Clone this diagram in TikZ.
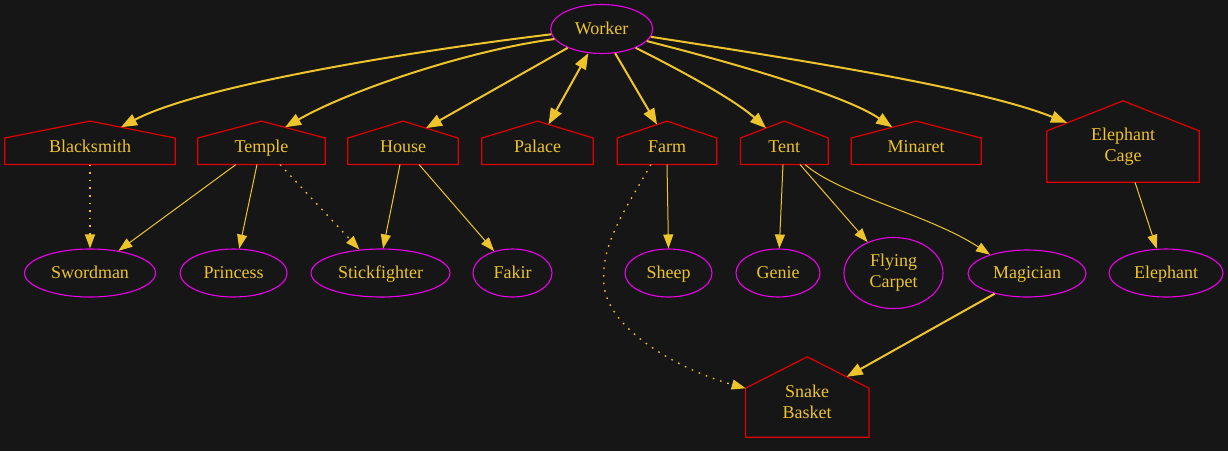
\documentclass[tikz,border=0pt]{standalone}
\usepackage{fontspec}
\setmainfont{Liberation Serif}
\usetikzlibrary{shapes.geometric,arrows.meta,calc}
\definecolor{bgc}{RGB}{22,22,22}
\definecolor{gold}{RGB}{238,196,45}
\definecolor{mag}{RGB}{235,0,235}
\definecolor{hred}{RGB}{225,0,0}
\newcommand\mkhouse[2]{\draw[housecol] (#1.south west) -- (#1.south east) -- ($(#1.north east)!#2!(#1.south east)$) -- (#1.north) -- ($(#1.north west)!#2!(#1.south west)$) -- cycle;}
\begin{document}
\begin{tikzpicture}[x=1pt,y=1pt,
  every node/.style={font=\fontsize{18}{21}\selectfont, text=gold},
  oneline/.style={text height=13.5pt, text depth=3.5pt},
  ell/.style={ellipse, draw=mag, line width=1.1pt, inner sep=0pt, minimum height=48pt},
  hbox/.style={rectangle, draw=none, inner sep=0pt, minimum height=43pt},
  htext/.style={align=center, inner sep=0pt},
  housecol/.style={draw=hred, line width=1.2pt},
  tipthin/.tip={Triangle[length=14pt,width=10pt]},
  tipthick/.tip={Triangle[length=16pt,width=12pt]},
  edgethin/.style={draw=gold, line width=1pt, -tipthin},
  edgethick/.style={draw=gold, line width=2pt, -tipthick},
  edgedot/.style={edgethin, line width=1.3pt, dash pattern=on 1.6pt off 6pt},
]
\fill[bgc] (0,0) rectangle (1228,-451);
\useasboundingbox (0,0) rectangle (1228,-451);

% ellipse nodes
\node[ell, oneline, minimum width=102pt, minimum height=49pt] (w) at (601.7,-29) {Worker};
\node[ell, oneline, minimum width=131pt] (sw) at (90,-273) {Swordman};
\node[ell, oneline, minimum width=107pt] (pr) at (233.6,-273) {Princess};
\node[ell, oneline, minimum width=139pt] (st) at (380.5,-273) {Stickfighter};
\node[ell, oneline, minimum width=79pt] (fk) at (512.5,-273) {Fakir};
\node[ell, oneline, minimum width=87pt] (sh) at (668.5,-273) {Sheep};
\node[ell, oneline, minimum width=84pt] (gn) at (778,-273) {Genie};
\node[ell, align=center, minimum width=99pt, minimum height=71pt] (fc) at (893.5,-273) {Flying\\Carpet};
\node[ell, oneline, minimum width=118pt, minimum height=47pt] (mg) at (1027,-273.5) {Magician};
\node[ell, oneline, minimum width=114pt] (el) at (1166,-273) {Elephant};

% house nodes
\node[hbox, minimum width=170pt] (bs) at (90,-142.8) {};
\node[hbox, minimum width=127pt] (tm) at (261.5,-142.8) {};
\node[hbox, minimum width=110pt] (hs) at (403,-142.8) {};
\node[hbox, minimum width=111pt] (pl) at (537.5,-142.8) {};
\node[hbox, minimum width=99pt] (fm) at (667,-142.8) {};
\node[hbox, minimum width=87.4pt] (tn) at (784.3,-142.8) {};
\node[hbox, minimum width=129.5pt] (mn) at (916.2,-142.8) {};
\node[hbox, minimum width=152pt, minimum height=81pt] (ec) at (1123,-141.5) {};
\node[hbox, minimum width=123pt, minimum height=80pt] (sb) at (807.2,-397) {};

\mkhouse{bs}{0.39}
\mkhouse{tm}{0.39}
\mkhouse{hs}{0.39}
\mkhouse{pl}{0.39}
\mkhouse{fm}{0.39}
\mkhouse{tn}{0.39}
\mkhouse{mn}{0.39}
\mkhouse{ec}{0.37}
\mkhouse{sb}{0.39}

\node[htext, oneline] (bs-t) at ([yshift=-4.5pt]bs.center) {Blacksmith};
\node[htext, oneline] (tm-t) at ([yshift=-4.5pt]tm.center) {Temple};
\node[htext, oneline] (hs-t) at ([yshift=-4.5pt]hs.center) {House};
\node[htext, oneline] (pl-t) at ([yshift=-4.5pt]pl.center) {Palace};
\node[htext, oneline] (fm-t) at ([yshift=-4.5pt]fm.center) {Farm};
\node[htext, oneline] (tn-t) at ([yshift=-4.5pt]tn.center) {Tent};
\node[htext, oneline] (mn-t) at ([yshift=-4.5pt]mn.center) {Minaret};
\node[htext] (ec-t) at ([yshift=-5pt]ec.center) {Elephant\\Cage};
\node[htext] (sb-t) at ([yshift=-4.5pt]sb.center) {Snake\\Basket};

% edges from Worker
\draw[edgethick] (w.186) .. controls (420,-50) and (200,-85) .. ($(bs.north)+(31,-6.1)$);
\draw[edgethick] (w.192) .. controls (470,-50) and (350,-90) .. ($(tm.north)+(23.5,-6.2)$);
\draw[edgethick] (w.209) -- ($(hs.north)+(23,-7)$);
\draw[edgethick, tipthick-tipthick] (w.241) -- ($(pl.north)+(11,-3.3)$);
\draw[edgethick] (w.299) -- ($(fm.north)+(-10,-3.4)$);
\draw[edgethick] (w.331) .. controls (680,-70) and (735,-100) .. ($(tn.north)+(-18.3,-7)$);
\draw[edgethick] (w.345) .. controls (730,-62) and (845,-95) .. ($(mn.north)+(-24,-6.2)$);
\draw[edgethick] (w.351) .. controls (800,-60) and (980,-88) .. ($(ec.north)+(-56,-22)$);

% lower edges
\draw[edgedot] (bs.south) -- (sw.north);
\draw[edgethin] ([xshift=-25.5pt]tm.south) -- (sw.38);
\draw[edgethin] ([xshift=-4.5pt]tm.south) -- (pr.77);
\draw[edgedot] ([xshift=18.5pt]tm.south) -- (st.132);
\draw[edgethin] ([xshift=-3pt]hs.south) -- (st.84);
\draw[edgethin] ([xshift=16pt]hs.south) -- (fk.130);
\draw[edgethin] (fm.south) -- (sh.north);
\draw[edgedot] ([xshift=-16pt]fm.south) .. controls (625,-210) and (600,-245) .. (604,-285) .. controls (608,-330) and (680,-370) .. ($(sb.north)+(-61.5,-31.5)$);
\draw[edgethin] ([xshift=-1.3pt]tn.south) -- (gn.87);
\draw[edgethin] ([xshift=15.7pt]tn.south) -- (fc.130);
\draw[edgethin] ([xshift=20.7pt]tn.south) .. controls (840,-195) and (930,-215) .. (mg.153);
\draw[edgethin] ([xshift=12pt]ec.south) -- (el.111);
\draw[edgethick] (mg.212) -- ($(sb.north)+(39.5,-20)$);
\end{tikzpicture}
\end{document}
